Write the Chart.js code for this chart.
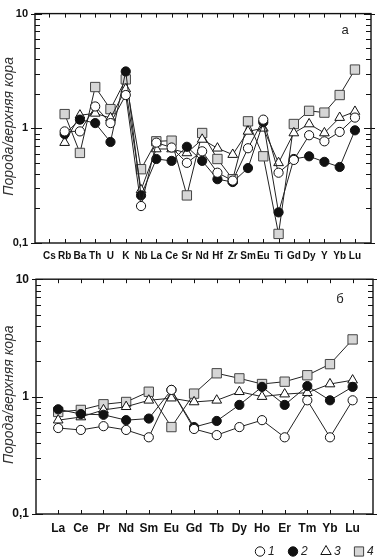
<!DOCTYPE html>
<html><head><meta charset="utf-8">
<script src="https://cdn.jsdelivr.net/npm/chart.js@4/dist/chart.umd.min.js"></script>
<style>
html,body{margin:0;padding:0;background:#fff;overflow:hidden;}
#w1{position:absolute;left:0;top:0;width:384px;height:265px;}
#w2{position:absolute;left:0;top:265px;width:384px;height:294px;}
canvas{display:block;}
</style></head><body>
<div id="w1"><canvas id="c1" width="384" height="265"></canvas></div>
<div id="w2"><canvas id="c2" width="384" height="294"></canvas></div>
<script>
// ---- data: panel а (spider diagram) ----
const topCats = ['Cs','Rb','Ba','Th','U','K','Nb','La','Ce','Sr','Nd','Hf','Zr','Sm','Eu','Ti','Gd','Dy','Y','Yb','Lu'];
const topS1 = [null,0.94,0.94,1.55,1.11,1.95,0.21,0.75,0.68,0.50,0.63,0.41,0.35,0.67,1.19,0.41,0.53,0.87,0.77,0.93,1.24];
const topS2 = [null,0.89,1.19,1.11,0.76,3.13,0.26,0.54,0.52,0.69,0.52,0.36,0.34,0.45,1.13,0.185,0.54,0.57,0.51,0.46,0.96];
const topS3 = [null,0.75,1.30,1.35,1.23,2.20,0.29,0.66,0.66,0.61,0.80,0.67,0.59,0.94,1.00,0.50,0.91,1.09,0.91,1.24,1.40];
const topS4 = [null,1.33,0.61,2.29,1.47,2.67,0.44,0.77,0.78,0.26,0.91,0.54,0.36,1.15,0.57,0.12,1.09,1.42,1.37,1.95,3.25];
// ---- data: panel б (REE) ----
const botCats = ['La','Ce','Pr','Nd','Sm','Eu','Gd','Tb','Dy','Ho','Er','Tm','Yb','Lu'];
const botS1 = [0.54,0.52,0.56,0.52,0.45,1.14,0.53,0.47,0.55,0.63,0.45,0.93,0.45,0.93];
const botS2 = [0.78,0.71,0.70,0.63,0.65,1.14,0.55,0.62,0.85,1.21,0.85,1.23,0.93,1.21];
const botS3 = [0.63,0.67,0.77,0.82,0.93,0.97,0.90,0.93,1.10,1.00,1.05,1.08,1.28,1.38];
const botS4 = [0.74,0.77,0.86,0.90,1.10,0.55,1.06,1.58,1.43,1.28,1.34,1.52,1.89,3.07];
const seriesLabels = ['1','2','3','4'];
const yTickValues = [0.1, 1, 10];
const yTickLabels = ['0,1','1','10'];
const yTitle = ' Порода/верхняя кора';

const styles = [
  {pointStyle:'circle',   pointRadius:4.6, pointBackgroundColor:'#ffffff', pointBorderColor:'#111'},
  {pointStyle:'circle',   pointRadius:4.6, pointBackgroundColor:'#111111', pointBorderColor:'#111'},
  {pointStyle:'triangle', pointRadius:5.6, pointBackgroundColor:'#ffffff', pointBorderColor:'#111'},
  {pointStyle:'rect',     pointRadius:6.6, pointBackgroundColor:'#d6d6d6', pointBorderColor:'#444'}
];

function makeDatasets(series){
  return series.map((vals,k)=>Object.assign({
    label: seriesLabels[k],
    data: vals.map((v,i)=>({x:i,y:v})).filter(p=>p.y!==null),
    borderColor:'#222', borderWidth:1, pointBorderWidth:1, fill:false, tension:0
  }, styles[k]));
}

const framePlugin = {
  id:'frame',
  beforeDatasetsDraw(chart){
    const {ctx, chartArea:a, scales:{x,y}} = chart;
    ctx.save();
    ctx.strokeStyle='#111'; ctx.lineWidth=1.4;
    ctx.strokeRect(a.left, a.top, a.right-a.left, a.bottom-a.top);
    ctx.lineWidth=1;
    ctx.beginPath();
    for (let e=-1;e<=1;e++){
      for (let m=1;m<=9;m++){
        const v=m*Math.pow(10,e);
        if (v<y.min-1e-9||v>y.max+1e-9) continue;
        const py=Math.round(y.getPixelForValue(v))+0.5;
        const major = (m===1);
        const inL = major?7:5, outL = major?4:0;
        ctx.moveTo(a.left-outL,py); ctx.lineTo(a.left+inL,py);
        ctx.moveTo(a.right+outL,py); ctx.lineTo(a.right-inL,py);
      }
    }
    const cats = chart.options.plugins.frame.cats;
    cats.forEach((c,i)=>{
      const px=Math.round(x.getPixelForValue(i))+0.5;
      ctx.moveTo(px,a.top); ctx.lineTo(px,a.top+4);
      ctx.moveTo(px,a.bottom); ctx.lineTo(px,a.bottom-4);
    });
    ctx.stroke();
    // panel label
    const o = chart.options.plugins.frame;
    ctx.fillStyle='#222'; ctx.font='13px "Liberation Sans", Arial, sans-serif';
    ctx.textAlign='center'; ctx.textBaseline='middle';
    ctx.fillText(o.panel, a.right-o.panelDx, a.top+o.panelDy);
    ctx.restore();
  }
};

const legendPlugin = {
  id:'miniLegend',
  afterDraw(chart){
    const o = chart.options.plugins.miniLegend;
    if (!o || !o.show) return;
    const {ctx, chartArea:a} = chart;
    ctx.save();
    const cy = a.bottom + o.dy;
    chart.data.datasets.forEach((ds,i)=>{
      const sx = a.right - o.startDx + i*o.pitch;
      ctx.fillStyle = ds.pointBackgroundColor;
      ctx.strokeStyle = ds.pointBorderColor;
      ctx.lineWidth = 1;
      const r = ds.pointStyle==='rect' ? 6.5 : (ds.pointStyle==='triangle'?6:4.7);
      Chart.helpers.drawPoint(ctx,{pointStyle:ds.pointStyle,radius:r,rotation:0,borderWidth:1},sx,cy);
      ctx.fillStyle='#222';
      ctx.font='italic 12px "Liberation Sans", Arial, sans-serif';
      ctx.textAlign='left'; ctx.textBaseline='middle';
      ctx.fillText(ds.label, sx+8, cy+0.5);
    });
    ctx.restore();
  }
};

function makeChart(id, cats, series, cfg){
  return new Chart(document.getElementById(id), {
    type:'line',
    data:{datasets: makeDatasets(series)},
    plugins:[framePlugin, legendPlugin],
    options:{
      responsive:false, animation:false,
      layout:{padding:cfg.padding},
      plugins:{
        legend:{display:false}, tooltip:{enabled:false},
        frame:{cats:cats, panel:cfg.panel, panelDx:cfg.panelDx, panelDy:cfg.panelDy},
        miniLegend:cfg.legend
      },
      scales:{
        x:{
          type:'linear', min:cfg.xMin, max:cfg.xMax,
          afterBuildTicks:(s)=>{ s.ticks = cats.map((c,i)=>({value:i})); },
          afterFit:(s)=>{ s.height = cfg.xHeight; },
          grid:{display:false, drawTicks:false}, border:{display:false},
          ticks:{autoSkip:false, maxRotation:0, padding:cfg.xPad,
            callback:(v)=> (cats[v] !== undefined ? cats[v] : ''),
            color:'#111', font:{family:'"Liberation Sans", Arial, sans-serif', weight:'bold', size:cfg.xFont}}
        },
        y:{
          type:'logarithmic', min:0.1, max:10,
          afterBuildTicks:(s)=>{ s.ticks = yTickValues.map(v=>({value:v})); },
          afterFit:(s)=>{ s.width = cfg.yWidth; },
          grid:{display:false, drawTicks:false}, border:{display:false},
          ticks:{autoSkip:false, padding:7,
            callback:(v)=>{ const k = yTickValues.findIndex(t=>Math.abs(t-v)<1e-9); return k>=0 ? yTickLabels[k] : ''; },
            color:'#111', font:{family:'"Liberation Sans", Arial, sans-serif', weight:'bold', size:cfg.yFont}},
          title:{display:true, text:yTitle, color:'#333', padding:{top:1,bottom:0},
            font:{family:'"Liberation Sans", Arial, sans-serif', style:'italic', size:14}}
        }
      }
    }
  });
}

makeChart('c1', topCats, [topS1,topS2,topS3,topS4], {
  padding:{top:10, right:13, left:0, bottom:0},
  xMin:-0.94, xMax:21.05, xHeight:22, yWidth:35, xPad:7, xFont:10, yFont:11,
  panel:'а', panelDx:26, panelDy:16.5, legend:{show:false}
});
makeChart('c2', botCats, [botS1,botS2,botS3,botS4], {
  padding:{top:14, right:11, left:0, bottom:23},
  xMin:-0.98, xMax:13.9, xHeight:22, yWidth:36, xPad:7, xFont:12, yFont:12,
  panel:'б', panelDx:33, panelDy:20,
  legend:{show:true, dy:37.5, startDx:113, pitch:33}
});
</script>
</body></html>
